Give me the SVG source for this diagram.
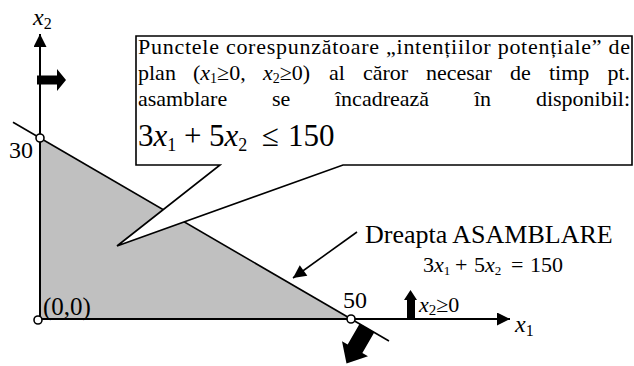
<svg xmlns="http://www.w3.org/2000/svg" width="634" height="366" viewBox="0 0 634 366">
<defs>
<style>
text{font-family:"Liberation Serif","Times New Roman",serif;fill:#000}
.it{font-style:italic}
.ln{stroke:#000;stroke-width:1.6;fill:none}
.ax{stroke:#000;stroke-width:2;fill:none}
.pt{fill:#fff;stroke:#000;stroke-width:1.6}
.fat{fill:#000;stroke:none}
.bx{font-size:22px}
</style>
<marker id="ah" viewBox="0 0 10 10" refX="10" refY="5" markerWidth="15" markerHeight="13" markerUnits="userSpaceOnUse" orient="auto"><path d="M0,0 L10,5 L0,10 z" fill="#000"/></marker>
</defs>
<g id="region">
<polygon points="40,138 40,319 351,319" fill="#c0c0c0"/>
</g>
<g id="connectors">
<line class="ax" x1="40" y1="319" x2="40" y2="34" marker-end="url(#ah)"/>
<line class="ax" x1="38" y1="319" x2="510" y2="319" marker-end="url(#ah)"/>
<line class="ln" x1="13" y1="122.3" x2="389" y2="341"/>
<line class="ln" x1="357" y1="232" x2="293" y2="278" marker-end="url(#ah)"/>
</g>
<g id="callout">
<polygon points="136,36 632,36 632,165 343,165 117,246 220,165 136,165" fill="#fff" stroke="#000" stroke-width="1.6"/>
<text class="bx" x="138" y="54" textLength="492" lengthAdjust="spacing">Punctele corespunzătoare „intențiilor potențiale” de</text>
<text class="bx" y="80"><tspan x="138">plan</tspan><tspan x="193">(</tspan><tspan class="it">x</tspan><tspan font-size="14" dy="3">1</tspan><tspan dy="-3">≥0,</tspan><tspan x="263" class="it">x</tspan><tspan font-size="14" dy="3">2</tspan><tspan dy="-3">≥0)</tspan><tspan x="329">al</tspan><tspan x="363">căror</tspan><tspan x="426">necesar</tspan><tspan x="510">de</tspan><tspan x="549">timp</tspan><tspan x="630" text-anchor="end">pt.</tspan></text>
<text class="bx" y="106"><tspan x="138">asamblare</tspan><tspan x="272">se</tspan><tspan x="335">încadrează</tspan><tspan x="474">în</tspan><tspan x="630" text-anchor="end">disponibil:</tspan></text>
<text font-size="31" y="146"><tspan x="138">3</tspan><tspan class="it">x</tspan><tspan font-size="18" dy="5">1</tspan><tspan x="184" dy="-5">+</tspan><tspan x="209">5</tspan><tspan class="it">x</tspan><tspan font-size="18" dy="5">2</tspan><tspan x="262" dy="-5">≤</tspan><tspan x="288">150</tspan></text>
</g>
<g id="line-label">
<text font-size="26" x="365" y="243">Dreapta ASAMBLARE</text>
<text font-size="22" y="272"><tspan x="423">3</tspan><tspan class="it">x</tspan><tspan font-size="13" dy="3">1</tspan><tspan x="455" dy="-3">+</tspan><tspan x="474">5</tspan><tspan class="it">x</tspan><tspan font-size="13" dy="3">2</tspan><tspan x="511" dy="-3">=</tspan><tspan x="530">150</tspan></text>
</g>
<g id="axis-labels">
<text font-size="24" x="33" y="25"><tspan class="it">x</tspan><tspan font-size="16" dy="4">2</tspan></text>
<text font-size="24" x="515" y="332"><tspan class="it">x</tspan><tspan font-size="16" dy="4">1</tspan></text>
<text font-size="24" x="9" y="158">30</text>
<text font-size="24" x="343" y="308">50</text>
<text font-size="25" x="43" y="315">(0,0)</text>
<text font-size="22" x="419" y="312"><tspan class="it">x</tspan><tspan font-size="15" dy="3">2</tspan><tspan dy="-3">≥0</tspan></text>
</g>
<g id="points">
<circle class="pt" cx="38" cy="320" r="4"/>
<circle class="pt" cx="40" cy="138" r="4"/>
<circle class="pt" cx="351" cy="319" r="4"/>
</g>
<g id="direction-arrows">
<polygon class="fat" points="37,75.5 57,75.5 57,69 66,80 57,91 57,84.5 37,84.5"/>
<polygon class="fat" points="407,319 407,300 404,300 410.5,290 417,300 415,300 415,319"/>
<polygon class="fat" transform="translate(367,328) rotate(120)" points="0,-8.5 24,-8.5 24,-15 41,0 24,15 24,8.5 0,8.5"/>
</g>
</svg>
